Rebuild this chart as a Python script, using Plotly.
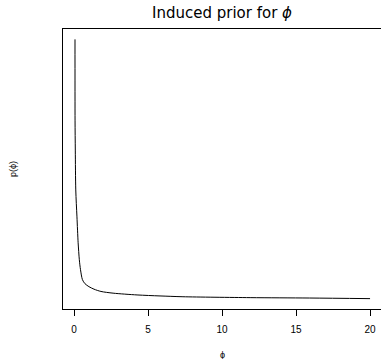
import plotly.graph_objects as go

phi = [0.068, 0.072, 0.088, 0.12, 0.20, 0.28, 0.36, 0.44, 0.57, 0.74, 1.01, 1.35,
       1.82, 2.64, 4.26, 5.81, 7.36, 11.9, 15.9, 20.0]
density = [27.0, 18.9, 15.9, 11.9, 9.2, 6.6, 4.9, 3.9, 2.9, 2.5, 2.2, 1.95,
           1.72, 1.55, 1.37, 1.27, 1.19, 1.10, 1.06, 1.00]
x_ticks = [0, 5, 10, 15, 20]

ymin, ymax = min(density), max(density)
pad = 0.04 * (ymax - ymin)

fig = go.Figure()
fig.add_trace(go.Scatter(x=phi, y=density, mode="lines",
                         line=dict(color="black", width=1, shape="spline", smoothing=0.8),
                         showlegend=False))

fig.update_layout(
    width=381, height=359,
    margin=dict(l=63, r=0, t=29, b=50),
    plot_bgcolor="white", paper_bgcolor="white",
    font=dict(family="Liberation Sans, Arial, sans-serif", color="black"),
    title=dict(text="Induced prior for <i>ϕ</i>", x=(63 + 381) / 2 / 381, xanchor="center",
               y=1 - 13 / 359, yanchor="middle",
               font=dict(size=15, family="DejaVu Sans, sans-serif")),
    xaxis=dict(range=[-0.743, 20.74], tickvals=x_ticks, ticks="outside", ticklen=6,
               tickwidth=1, tickcolor="black", showline=True, linecolor="black",
               linewidth=1, mirror=True, showgrid=False, zeroline=False,
               tickfont=dict(size=10), ticklabelstandoff=5),
    yaxis=dict(range=[ymin - pad, ymax + pad], showticklabels=False, ticks="",
               showline=True, linecolor="black", linewidth=1, mirror=False,
               showgrid=False, zeroline=False),
    annotations=[
        dict(text="ϕ", xref="paper", yref="paper", x=0.5, y=0, yshift=-46,
             showarrow=False, font=dict(size=9), xanchor="center", yanchor="middle"),
        dict(text="p(ϕ)", xref="paper", yref="paper", x=0, xshift=-50, y=0.5,
             showarrow=False, font=dict(size=9), textangle=-90,
             xanchor="center", yanchor="middle"),
    ],
)

fig.write_html("out.html")
